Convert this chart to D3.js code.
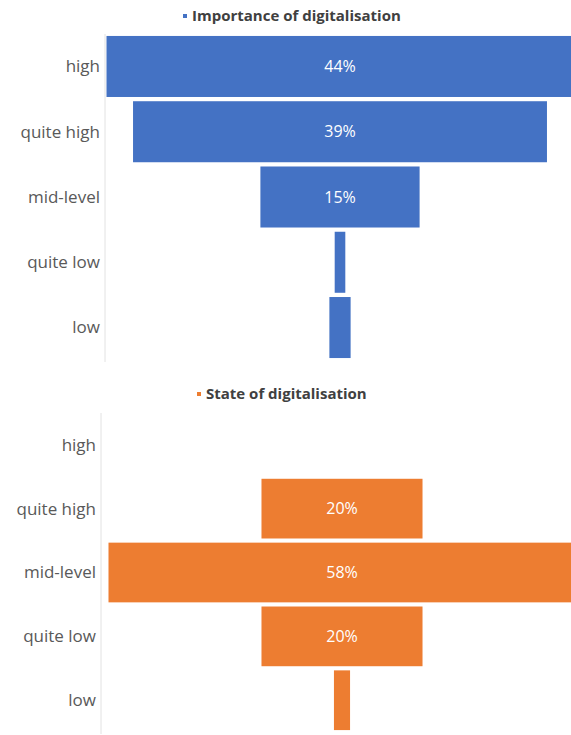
<!DOCTYPE html>
<meta charset="utf-8">
<style>
body { margin: 0; background: #fff; }
text { font-family: "Open Sans", sans-serif; }
.cat { font-size: 17px; fill: #595959; text-anchor: end; }
.title { font-size: 15px; font-weight: bold; fill: #404040; }
.val { font-size: 16px; fill: #fff; text-anchor: middle; }
.axis { stroke: #e2e2e2; stroke-width: 1; }
</style>
<svg width="571" height="735"></svg>
<script src="https://cdn.jsdelivr.net/npm/d3@7"></script>
<script>

var categories = ["high", "quite high", "mid-level", "quite low", "low"];
var importance = [44, 39, 15, 1, 2];
var state = [0, 20, 58, 20, 2];

var svg = d3.select("svg");

// one funnel per panel
function funnel(opts) {
  var y = d3.scaleBand()
      .domain(categories)
      .range([opts.top, opts.bottom])
      .paddingInner(0.065)
      .paddingOuter(0.03);

  var x = d3.scaleLinear()
      .domain([0, d3.max(opts.values)])
      .range([0, 467]);

  var g = svg.append("g");

  // title with small legend marker
  g.append("rect")
      .attr("x", opts.titleX - 9)
      .attr("y", opts.titleY - 7)
      .attr("width", 4)
      .attr("height", 4)
      .style("fill", opts.color);
  g.append("text")
      .attr("class", "title")
      .attr("x", opts.titleX)
      .attr("y", opts.titleY)
      .text(opts.title);

  g.append("line")
      .attr("class", "axis")
      .attr("x1", opts.axisX).attr("x2", opts.axisX)
      .attr("y1", opts.top).attr("y2", opts.bottom + 2);

  g.selectAll(".cat")
      .data(categories)
      .enter().append("text")
      .attr("class", "cat")
      .attr("x", opts.axisX - 5)
      .attr("y", function(d) { return y(d) + y.bandwidth() / 2; })
      .attr("dy", "0.35em")
      .text(function(d) { return d; });

  var data = categories.map(function(c, i) { return {cat: c, v: opts.values[i]}; });

  g.selectAll(".bar")
      .data(data.filter(function(d) { return d.v > 0; }))
      .enter().append("rect")
      .attr("class", "bar")
      .attr("x", function(d) { return opts.center - x(d.v) / 2; })
      .attr("y", function(d) { return y(d.cat); })
      .attr("width", function(d) { return x(d.v); })
      .attr("height", y.bandwidth())
      .style("fill", opts.color);

  g.selectAll(".val")
      .data(data.filter(function(d) { return d.v >= 10; }))
      .enter().append("text")
      .attr("class", "val")
      .attr("x", opts.center)
      .attr("y", function(d) { return y(d.cat) + y.bandwidth() / 2; })
      .attr("dy", "0.35em")
      .text(function(d) { return d.v + "%"; });
}

funnel({
  values: importance, color: "#4472c4", title: "Importance of digitalisation",
  titleX: 192, titleY: 21, top: 34, bottom: 360, center: 340, axisX: 105
});

funnel({
  values: state, color: "#ed7d31", title: "State of digitalisation",
  titleX: 206, titleY: 399, top: 413, bottom: 732, center: 342, axisX: 101
});

</script>
